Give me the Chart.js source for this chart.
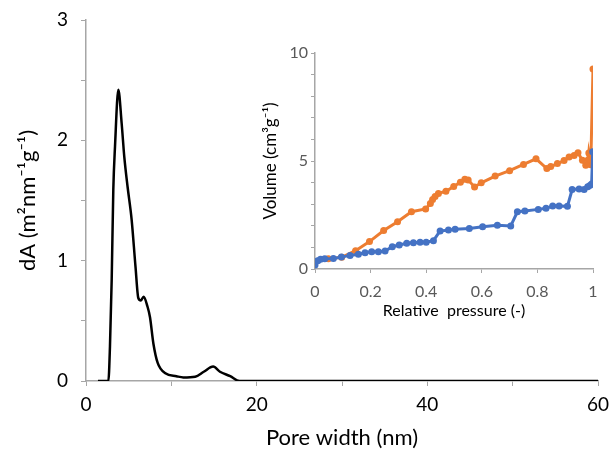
<!DOCTYPE html>
<html>
<head>
<meta charset="utf-8">
<script src="https://cdn.jsdelivr.net/npm/chart.js@4"></script>
<style>
  body { margin: 0; background: #fff; }
  #wrap { position: relative; width: 610px; height: 452px; }
  #main { position: absolute; left: 0; top: 0; }
  #inset { position: absolute; left: 250px; top: 40px; }
</style>
</head>
<body>
<div id="wrap">
  <canvas id="main" width="610" height="452"></canvas>
  <canvas id="inset" width="360" height="290"></canvas>
</div>
<script>
// pore size distribution
const poreWidth = [1.4, 2.62, 2.81, 3.01, 3.2, 3.4, 3.79, 4.18, 4.49, 4.88, 5.35, 5.8, 6.13, 6.44, 6.75, 7.2, 7.5, 7.9, 8.4, 9.3, 10.6, 11.4, 12.8, 13.8, 14.9, 15.7, 16.9, 18.0, 20, 30, 40, 50, 60];
const dA = [0, 0, 0.29, 0.84, 1.59, 1.95, 2.42, 2.14, 1.86, 1.61, 1.34, 0.95, 0.69, 0.67, 0.70, 0.62, 0.53, 0.31, 0.15, 0.064, 0.04, 0.03, 0.036, 0.077, 0.12, 0.077, 0.04, 0, 0, 0, 0, 0, 0];
const mainXLabels = [0, 20, 40, 60];
const mainYLabels = [0, 1, 2, 3];

// isotherm (inset)
const adsP = [0.0, 0.01, 0.02, 0.035, 0.066, 0.095, 0.126, 0.156, 0.18, 0.204, 0.228, 0.252, 0.278, 0.303, 0.33, 0.354, 0.378, 0.40, 0.426, 0.45, 0.48, 0.504, 0.555, 0.603, 0.656, 0.704, 0.728, 0.755, 0.803, 0.831, 0.855, 0.878, 0.908, 0.925, 0.95, 0.968, 0.981, 0.989, 0.995, 0.999];
const adsV = [0.19, 0.38, 0.45, 0.47, 0.49, 0.55, 0.63, 0.68, 0.75, 0.80, 0.80, 0.83, 1.03, 1.11, 1.19, 1.22, 1.24, 1.24, 1.31, 1.76, 1.8, 1.84, 1.88, 1.96, 2.02, 1.99, 2.65, 2.69, 2.76, 2.81, 2.92, 2.92, 2.9, 3.68, 3.70, 3.68, 3.81, 3.87, 3.93, 5.43];
const desP = [1.0, 0.992, 0.985, 0.983, 0.974, 0.962, 0.946, 0.932, 0.914, 0.896, 0.872, 0.848, 0.834, 0.795, 0.75, 0.70, 0.648, 0.598, 0.574, 0.551, 0.539, 0.523, 0.499, 0.471, 0.444, 0.432, 0.423, 0.415, 0.398, 0.347, 0.297, 0.247, 0.196, 0.146, 0.096, 0.048];
const desV = [9.26, 4.83, 5.37, 5.06, 4.8, 5.03, 5.38, 5.26, 5.18, 5.02, 4.88, 4.74, 4.65, 5.1, 4.84, 4.55, 4.3, 3.99, 3.8, 4.12, 4.15, 4.02, 3.82, 3.6, 3.5, 3.36, 3.22, 3.03, 2.78, 2.65, 2.19, 1.78, 1.27, 0.85, 0.54, 0.48];
const insetXLabels = [0, 0.2, 0.4, 0.6, 0.8, 1];
const insetYLabels = [0, 5, 10];

const pts = (xs, ys) => xs.map((x, i) => ({x: x, y: ys[i]}));
const FONT = 'Lato, "Open Sans", sans-serif';
const AXIS = '#a6a6a6';

new Chart(document.getElementById('main'), {
  type: 'scatter',
  data: {
    datasets: [{
      data: pts(poreWidth, dA),
      showLine: true,
      borderColor: '#000',
      borderWidth: 2.5,
      pointRadius: 0,
      cubicInterpolationMode: 'monotone'
    }]
  },
  options: {
    responsive: false,
    animation: false,
    layout: { padding: { left: 0, top: 20, right: 12, bottom: 0 } },
    plugins: { legend: { display: false }, tooltip: { enabled: false } },
    scales: {
      x: {
        type: 'linear', min: 0, max: 60,
        afterFit: s => { s.height = 71; s.paddingRight = 0; s.paddingLeft = 0; },
        grid: { drawOnChartArea: false, tickLength: 5, color: AXIS },
        border: { color: AXIS, width: 1.5 },
        ticks: {
          stepSize: 10, autoSkip: false, maxRotation: 0, padding: 7,
          color: '#000', font: { family: FONT, size: 19 },
          callback: v => mainXLabels.includes(v) ? v : ''
        },
        title: { display: true, text: 'Pore width (nm)', color: '#000', font: { family: FONT, size: 22 }, padding: { top: 0, bottom: 1 } }
      },
      y: {
        min: 0, max: 3,
        afterFit: s => { s.width = 86; s.paddingTop = 0; s.paddingBottom = 0; },
        grid: { drawOnChartArea: false, tickLength: 5, color: AXIS },
        border: { color: AXIS, width: 1.5 },
        ticks: {
          stepSize: 0.5, autoSkip: false, padding: 13,
          color: '#000', font: { family: FONT, size: 19 },
          callback: v => mainYLabels.includes(v) ? v : ''
        },
        title: { display: true, text: 'dA (m²nm⁻¹g⁻¹)', color: '#000', font: { family: FONT, size: 22 }, padding: { top: 15, bottom: 0 } }
      }
    }
  }
});

new Chart(document.getElementById('inset'), {
  type: 'scatter',
  data: {
    datasets: [{
      label: 'adsorption',
      data: pts(adsP, adsV),
      showLine: true,
      borderColor: '#4472c4',
      backgroundColor: '#4472c4',
      borderWidth: 3,
      pointRadius: 3.5,
      pointBorderWidth: 0
    }, {
      label: 'desorption',
      data: pts(desP, desV),
      showLine: true,
      borderColor: '#ed7d31',
      backgroundColor: '#ed7d31',
      borderWidth: 3,
      pointRadius: 3.5,
      pointBorderWidth: 0
    }]
  },
  options: {
    responsive: false,
    animation: false,
    layout: { padding: { left: 0, top: 13, right: 17, bottom: 0 } },
    plugins: { legend: { display: false }, tooltip: { enabled: false } },
    scales: {
      x: {
        type: 'linear', min: 0, max: 1,
        afterFit: s => { s.height = 61; s.paddingRight = 0; s.paddingLeft = 0; },
        grid: { drawOnChartArea: false, tickLength: 4, color: AXIS },
        border: { color: AXIS, width: 1.5 },
        ticks: {
          stepSize: 0.2, autoSkip: false, maxRotation: 0, padding: 9,
          color: '#595959', font: { family: FONT, size: 16 },
          callback: v => {
            const r = Math.round(v * 10) / 10;
            return insetXLabels.includes(r) ? String(r) : '';
          }
        },
        title: { display: true, text: 'Relative  pressure (-)', color: '#000', font: { family: FONT, size: 16 }, padding: { top: 0, bottom: 10 } }
      },
      y: {
        min: 0, max: 10,
        afterFit: s => { s.width = 65; s.paddingTop = 0; s.paddingBottom = 0; },
        grid: { drawOnChartArea: false, tickLength: 4, color: AXIS },
        border: { color: AXIS, width: 1.5 },
        ticks: {
          stepSize: 1, autoSkip: false, padding: 3,
          color: '#595959', font: { family: FONT, size: 16 },
          callback: v => insetYLabels.includes(v) ? v : ''
        },
        title: { display: true, text: 'Volume (cm³g⁻¹)', color: '#000', font: { family: FONT, size: 17 }, padding: { top: 10, bottom: 0 } }
      }
    }
  }
});
</script>
</body>
</html>
